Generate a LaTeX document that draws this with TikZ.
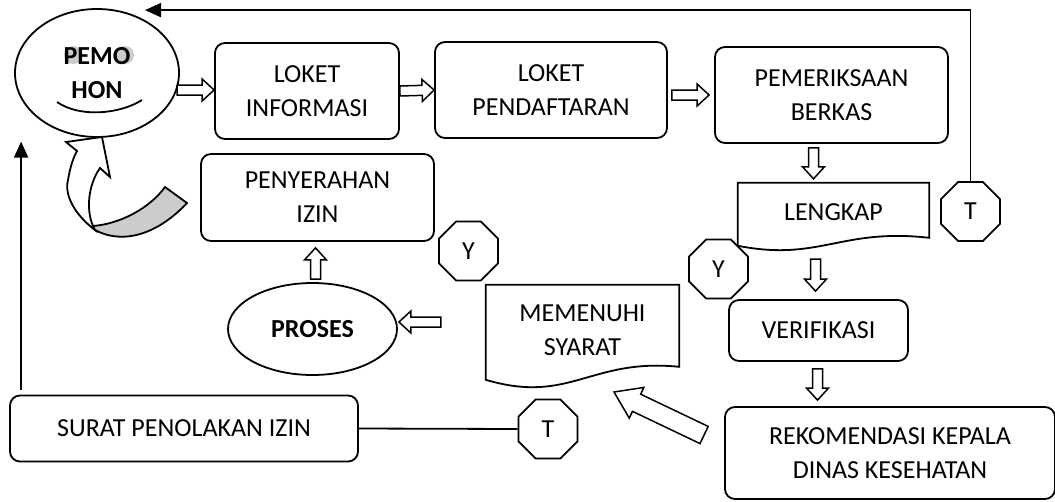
\documentclass[tikz,border=0pt]{standalone}
\usepackage{fontspec}
\setmainfont{Carlito}
\usetikzlibrary{shapes.geometric,calc,arrows.meta}

\tikzset{
  txt/.style={font=\fontsize{26}{34}\selectfont, align=center},
  bold/.style={font=\fontsize{26}{34}\selectfont\bfseries},
  box/.style={txt, draw, line width=1.8pt, rounded corners=10pt},
  oval/.style={txt, draw, line width=1.8pt, ellipse, inner sep=0pt},
  octa/.style={txt, draw, fill=white, line width=1.8pt, regular polygon, regular polygon sides=8, minimum size=64pt, inner sep=0pt},
  doc/.style={txt, inner sep=0pt},
  line/.style={line width=1.8pt},
  tip/.style={-{Triangle[length=16pt,width=14pt]}},
  blockarr/.style n args={3}{draw, fill=white, line width=1.5pt, to path={
    let \p1=(\tikztostart), \p2=(\tikztotarget), \p3=($(\p2)!#3!(\p1)$) in
    ($(\p1)!#1!-90:(\p2)$) -- ($(\p3)!#1!90:(\p1)$) -- ($(\p3)!#2!90:(\p1)$) -- (\p2)
    -- ($(\p3)!#2!-90:(\p1)$) -- ($(\p3)!#1!-90:(\p1)$) -- ($(\p1)!#1!90:(\p2)$) -- cycle}},
  openarr/.style={blockarr={5pt}{11pt}{12pt}}
}

\begin{document}
\begin{tikzpicture}[x=1pt,y=-1pt]
\useasboundingbox (0,0) rectangle (1055,501);

% pemohon with its face
\fill[gray!40] (73,55) circle[radius=9pt];
\fill[gray!40] (125,55) circle[radius=9pt];
\node[oval, bold, minimum width=164pt, minimum height=128pt] (pemohon) at (97,73) {PEMO\\HON};
\draw[line] (57,102) .. controls (80,118) and (120,114) .. (142,100);

% curved arrow back to pemohon
\filldraw[line, fill=white] (100,168) .. controls (88,185) and (86,210) .. (93,226) -- (95,230)
  .. controls (75,215) and (64,195) .. (68,180) .. controls (70,168) and (73,158) .. (77,151)
  -- (66,142) -- (102,137) -- (110,177) -- cycle;
\filldraw[line, fill=gray!40] (93,226) .. controls (120,224) and (150,208) .. (165,187) -- (187,203)
  .. controls (160,232) and (125,246) .. (95,230) -- cycle;

\node[box, minimum width=184pt, minimum height=96pt] (info) at (307,91) {LOKET\\INFORMASI};
\node[box, minimum width=232pt, minimum height=96pt] (daftar) at (551,90) {LOKET\\PENDAFTARAN};
\node[box, minimum width=233pt, minimum height=96pt] (periksa) at (831.5,95) {PEMERIKSAAN\\BERKAS};

\node[doc, minimum width=191pt, minimum height=58pt] (lengkap) at (833.5,212) {LENGKAP};
\draw[line] (lengkap.north west) -- (lengkap.north east) -- ++(0,55)
  .. controls +(-89,-10) and +(82,16) .. ([yshift=-63pt]lengkap.north west) -- cycle;
\node[octa] (tlengkap) at (970.5,211.5) {T};
\node[octa] (ylengkap) at (718.5,269) {Y};

\node[box, minimum width=179pt, minimum height=61pt] (verif) at (818.5,330.5) {VERIFIKASI};
\node[box, minimum width=330pt, minimum height=92pt] (rekom) at (890,453) {REKOMENDASI KEPALA\\DINAS KESEHATAN};

\node[doc, minimum width=193pt, minimum height=91pt] (memenuhi) at (582.5,330.5) {MEMENUHI\\SYARAT};
\draw[line] (memenuhi.north west) -- (memenuhi.north east) -- ++(0,82)
  .. controls +(-89,-9) and +(84,25) .. ([yshift=-95pt]memenuhi.north west) -- cycle;
\node[octa] (ysyarat) at (468.5,251) {Y};
\node[octa] (tsyarat) at (548,429) {T};
\coordinate (tipsyarat) at (614,392);

\node[oval, bold, minimum width=169pt, minimum height=92pt] (proses) at (312.5,329) {PROSES};
\node[box, minimum width=233pt, minimum height=87pt] (serah) at (317.5,197.5) {PENYERAHAN\\IZIN};
\node[box, minimum width=348pt, minimum height=66pt] (surat) at (184,428.5) {SURAT PENOLAKAN IZIN};

% block arrows
\draw[openarr] (pemohon.-12) to (info.west |- pemohon.-12);
\draw[openarr] (info.east) to (daftar.west);
\draw[openarr] ($(daftar.east |- periksa.west)+(4,0)$) to ($(periksa.west)+(-5,0)$);
\draw[openarr] ($(periksa.south)+(-18,4)$) to ($(lengkap.north)+(-20,-4)$);
\draw[openarr] ($(verif.north |- lengkap.south)+(-3,18)$) to ($(verif.north)+(-3,-8)$);
\draw[openarr] ($(verif.south)+(-1,7)$) to ($(verif.south |- rekom.north)+(-1,-6)$);
\draw[blockarr={9.5pt}{17pt}{25pt}] ($(rekom.west)+(-20,-18)$) to (tipsyarat);
\draw[openarr] ($(proses.east)+(43,-7)$) to ($(proses.east)+(1,-7)$);
\draw[openarr] ($(proses.north)+(3,-3)$) to ($(proses.north |- serah.south)+(3,6)$);

% plain lines
\draw[line] (surat.east) -- (tsyarat.west);
\draw[line, tip] ($(surat.north west)+(12,-5)$) -- ++(0,-248);
\draw[line, tip] (tlengkap.north) |- ($(pemohon.north)+(48,2)$);
\end{tikzpicture}
\end{document}
